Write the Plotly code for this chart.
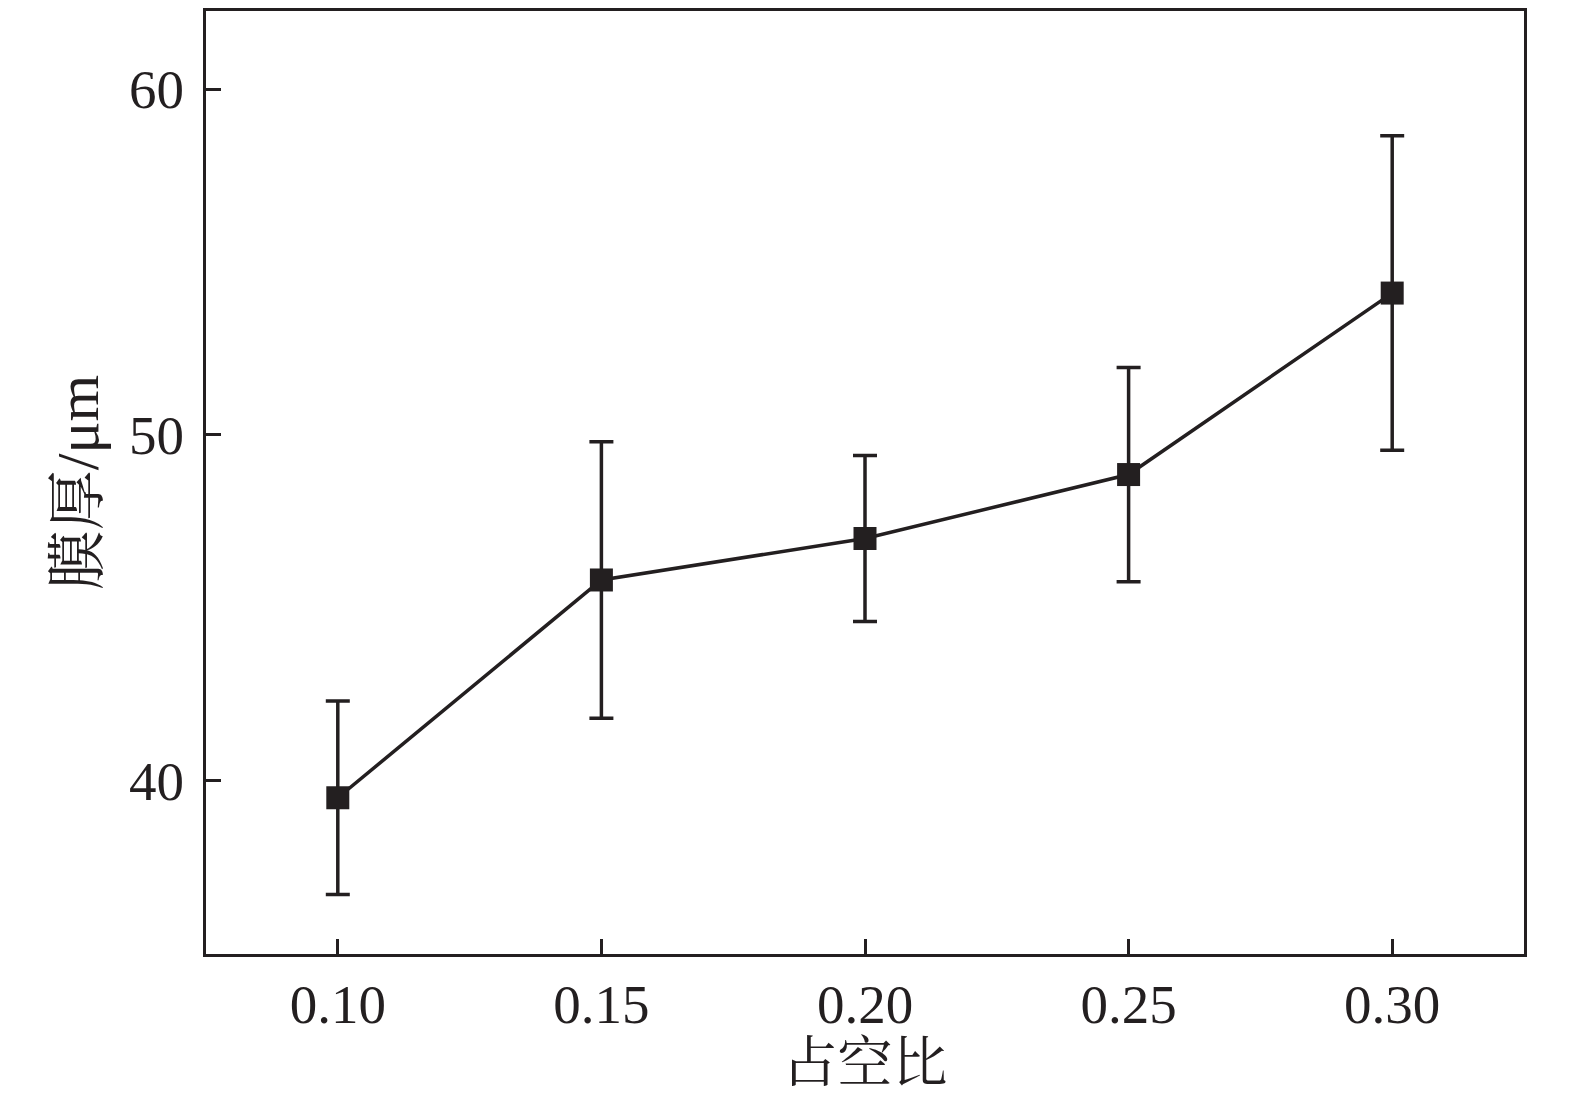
import plotly.graph_objects as go

# duty ratio vs film thickness
duty_ratio = [0.10, 0.15, 0.20, 0.25, 0.30]
thickness_um = [39.5, 45.8, 47.0, 48.85, 54.1]
thickness_err = [2.8, 4.0, 2.4, 3.1, 4.55]

x_ticks = [0.10, 0.15, 0.20, 0.25, 0.30]
x_ticklabels = ["0.10", "0.15", "0.20", "0.25", "0.30"]
y_ticks = [40, 50, 60]

ink = "#231f20"
serif = "Liberation Serif, Times New Roman, Noto Serif CJK SC, Noto Sans CJK SC, serif"

fig = go.Figure()
_ = fig.add_trace(
    go.Scatter(
        x=duty_ratio,
        y=thickness_um,
        mode="lines+markers",
        line=dict(color=ink, width=3.5),
        marker=dict(symbol="square", size=23, color=ink),
        error_y=dict(
            type="data",
            array=thickness_err,
            color=ink,
            thickness=3.5,
            width=12,
        ),
        showlegend=False,
    )
)

axis_common = dict(
    showline=True,
    linecolor=ink,
    linewidth=3,
    mirror=True,
    showgrid=False,
    zeroline=False,
    ticks="inside",
    ticklen=15,
    tickwidth=3,
    tickcolor=ink,
    tickfont=dict(family=serif, size=55, color=ink),
)

_ = fig.update_xaxes(
    range=[0.075, 0.325],
    tickvals=x_ticks,
    ticktext=x_ticklabels,
    ticklabelstandoff=0,
    title=dict(text="占空比", font=dict(family=serif, size=55, color=ink), standoff=6),
    **axis_common,
)
_ = fig.update_yaxes(
    range=[34.98, 62.26],
    tickvals=y_ticks,
    ticklabelstandoff=8,
    title=dict(text="膜厚/μm", font=dict(family=serif, size=60, color=ink), standoff=12),
    **axis_common,
)

_ = fig.update_layout(
    width=1559,
    height=1085,
    margin=dict(l=198, r=43, t=0, b=139),
    paper_bgcolor="white",
    plot_bgcolor="white",
)

fig.write_html("out.html")
